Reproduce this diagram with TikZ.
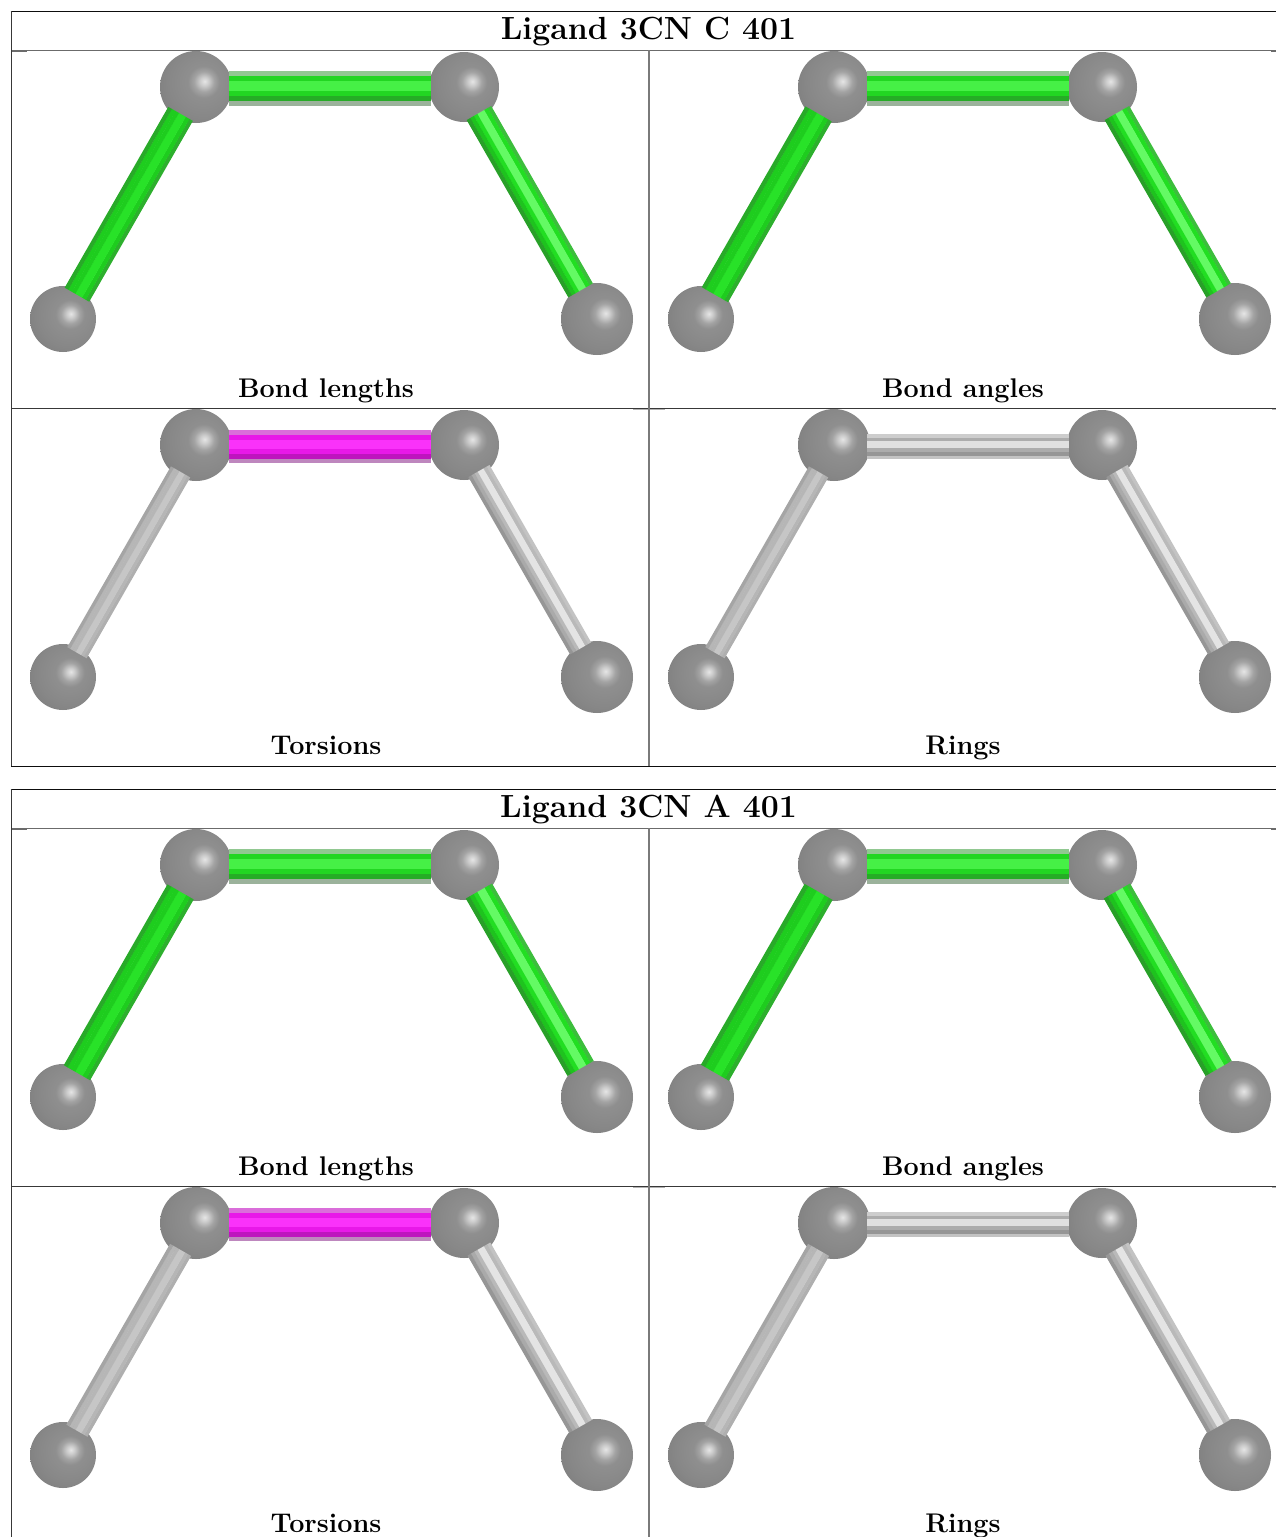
\documentclass[tikz,border=0pt]{standalone}
\usepackage{fontspec}
\setmainfont{Latin Modern Roman}
\usetikzlibrary{calc}
\pgfdeclareradialshading{atomball}{\pgfpoint{6bp}{4bp}}{
 color(0bp)=(black!10);
 color(3bp)=(black!20);
 color(7bp)=(black!36);
 color(11bp)=(black!44);
 color(24bp)=(black!47);
 color(33bp)=(black!50);
 color(38bp)=(black!60);
 color(43bp)=(black!68);
 color(100bp)=(black!68)}
\tikzset{
 x=1pt,y=-1pt,
 atom/.style={circle,inner sep=0pt,outer sep=0pt,minimum size=2*#1 pt,shading=atomball},
 ruleblack/.style={line width=1.3pt,draw=black!95},
 ruledark/.style={line width=1.1pt,draw=black!78},
 rulegrey/.style={line width=1.1pt,draw=black!58},
 rulepale/.style={line width=1.6pt,draw=black!52},
 stubpale/.style={line width=1pt,draw=black!30},
 ttl/.style={font=\fontsize{32}{34}\selectfont\bfseries,inner sep=0pt,anchor=base},
 lbl/.style={font=\fontsize{27}{29}\selectfont\bfseries,inner sep=0pt,anchor=base}
}
% palettes: 1 light-side fringe, 2 body, 3 highlight, 4 shaded body, 5 dark-side fringe
\definecolor{hg1}{RGB}{145,200,145}\definecolor{hg2}{RGB}{34,214,34}\definecolor{hg3}{RGB}{70,240,70}\definecolor{hg4}{RGB}{38,172,38}\definecolor{hg5}{RGB}{155,178,155}
\definecolor{lg1}{RGB}{45,175,45}\definecolor{lg2}{RGB}{30,205,30}\definecolor{lg3}{RGB}{40,226,40}\definecolor{lg4}{RGB}{30,205,30}\definecolor{lg5}{RGB}{40,170,40}
\definecolor{rg1}{RGB}{60,190,60}\definecolor{rg2}{RGB}{34,222,34}\definecolor{rg3}{RGB}{100,250,100}\definecolor{rg4}{RGB}{30,195,30}\definecolor{rg5}{RGB}{40,160,40}
\definecolor{hm1}{RGB}{218,110,218}\definecolor{hm2}{RGB}{232,24,232}\definecolor{hm3}{RGB}{250,50,250}\definecolor{hm4}{RGB}{190,20,190}\definecolor{hm5}{RGB}{190,135,190}
\definecolor{hs1}{RGB}{205,205,205}\definecolor{hs2}{RGB}{172,172,172}\definecolor{hs3}{RGB}{224,224,224}\definecolor{hs4}{RGB}{150,150,150}\definecolor{hs5}{RGB}{195,195,195}
\definecolor{ls1}{RGB}{175,175,175}\definecolor{ls2}{RGB}{182,182,182}\definecolor{ls3}{RGB}{198,198,198}\definecolor{ls4}{RGB}{182,182,182}\definecolor{ls5}{RGB}{165,165,165}
\definecolor{rs1}{RGB}{195,195,195}\definecolor{rs2}{RGB}{185,185,185}\definecolor{rs3}{RGB}{228,228,228}\definecolor{rs4}{RGB}{170,170,170}\definecolor{rs5}{RGB}{150,150,150}
% \bond[shift]{from}{to}{width}{palette}{shorten start}{shorten end}
\newcommand{\bond}[7][0]{%
 \foreach \fa/\fb/\cidx in {.5/.36/1,.36/.21/2,.21/-.07/3,-.07/-.21/2,-.21/-.36/4,-.36/-.5/5}{%
  \pgfmathsetmacro{\off}{(\fa+\fb)/2*#4+#1}
  \pgfmathsetmacro{\wid}{(\fa-\fb)*#4+.3}
  \draw[line width=\wid pt,draw=#5\cidx,shorten <=#6pt,shorten >=#7pt]
   ($(#2.center)!\off pt!90:(#3.center)$) -- ($(#3.center)!\off pt!-90:(#2.center)$);
 }}
% \molecule{prefix}{dx}{dy}{horizontal palette}{horizontal width}{left palette}{left width}{right palette}{right width}
\newcommand{\molecule}[9]{%
 \begin{scope}[shift={(#2,#3)}]
 \node[atom=36] (#1a) at (196,87) {};
 \node[atom=35] (#1b) at (464,87) {};
 \node[atom=33] (#1c) at (63,319) {};
 \node[atom=36] (#1d) at (597,319) {};
 \end{scope}
 \bond[-1.8]{#1a}{#1b}{#5}{#4}{33}{33}
 \bond{#1a}{#1c}{#7}{#6}{31}{28}
 \bond{#1b}{#1d}{#9}{#8}{30}{33}
}
\newcommand{\tablerules}[1]{%
 \begin{scope}[shift={(0,#1)}]
 \draw[ruleblack] (10.5,11.5) -- (1276,11.5);
 \draw[rulegrey] (11,50.5) -- (1276,50.5);
 \draw[rulegrey] (11,51.5) -- (27,51.5);
 \draw[rulegrey] (1271,51.5) -- (1276,51.5);
 \draw[stubpale] (633,409.5) -- (665,409.5);
 \draw[stubpale] (1272,409.5) -- (1276,409.5);
 \draw[ruledark] (11,408.5) -- (1276,408.5);
 \draw[rulepale] (649,50) -- (649,766);
 \draw[ruledark] (11.5,11) -- (11.5,766);
 \draw[ruleblack] (11,766.5) -- (1276,766.5);
 \end{scope}}
\begin{document}
\begin{tikzpicture}
\useasboundingbox (0,0) rectangle (1276,1537);
\clip (0,0) rectangle (1276,1537);
\tablerules{0}
\tablerules{778}
\molecule{p}{0}{0}{hg}{35}{lg}{28}{rg}{28}
\molecule{q}{638}{0}{hg}{35}{lg}{30}{rg}{28}
\molecule{r}{0}{358}{hm}{33}{ls}{22}{rs}{24}
\molecule{s}{638}{358}{hs}{25}{ls}{22}{rs}{24}
\molecule{t}{0}{778}{hg}{35}{lg}{30}{rg}{30}
\molecule{u}{638}{778}{hg}{35}{lg}{32}{rg}{30}
\molecule{v}{0}{1136}{hm}{33}{ls}{24}{rs}{26}
\molecule{w}{638}{1136}{hs}{25}{ls}{24}{rs}{26}
\node[ttl] (title1) at (648.5,39) {Ligand 3CN C 401};
\node[lbl] (lab1) at (326,397) {Bond lengths};
\node[lbl] (lab2) at (963,397) {Bond angles};
\node[lbl] (lab3) at (326,754) {Torsions};
\node[lbl] (lab4) at (963,754) {Rings};
\node[ttl] (title2) at (648.5,817) {Ligand 3CN A 401};
\node[lbl] (lab5) at (326,1175) {Bond lengths};
\node[lbl] (lab6) at (963,1175) {Bond angles};
\node[lbl] (lab7) at (326,1532) {Torsions};
\node[lbl] (lab8) at (963,1532) {Rings};
\end{tikzpicture}
\end{document}
